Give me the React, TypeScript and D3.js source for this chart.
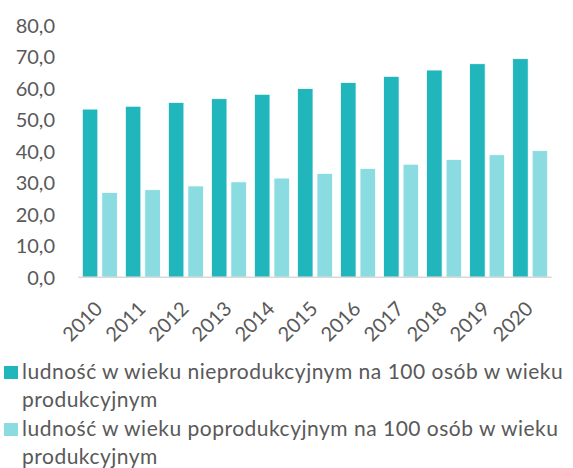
import React from "react";
import * as d3 from "d3";

const years = ["2010","2011","2012","2013","2014","2015","2016","2017","2018","2019","2020"];
const nonProductive = [53.4, 54.3, 55.5, 56.7, 58.1, 59.9, 61.8, 63.8, 65.8, 67.8, 69.4];
const postProductive = [26.9, 27.8, 29.0, 30.3, 31.5, 33.0, 34.5, 35.9, 37.4, 38.9, 40.2];
const yTicks = [0, 10, 20, 30, 40, 50, 60, 70, 80];
const legendLines = [
  ["ludność w wieku nieprodukcyjnym na 100 osób w wieku", "produkcyjnym"],
  ["ludność w wieku poprodukcyjnym na 100 osób w wieku", "produkcyjnym"],
];

const W = 573, H = 468;
const DARK = "#21B5BC", LIGHT = "#8ADCE1", TEXT = "#595959";
const FONT = "Lato, 'Open Sans', sans-serif";

export default function App() {
  const x = d3.scaleBand<string>().domain(years).range([78.3, 551.7]).padding(0);
  const y = d3.scaleLinear().domain([0, 80]).range([277.3, 25.3]);
  const bw = 15.5, gap = 4;
  const fmt = (v: number) => v.toFixed(1).replace(".", ",");
  const colors = [DARK, LIGHT];
  return (
    <svg width={W} height={H} style={{ position: "absolute", left: 0, top: 0 }} fontFamily={FONT}>
      {years.map((yr, i) => {
        const cx = (x(yr) as number) + x.bandwidth() / 2;
        return (
          <g key={yr}>
            <rect x={cx - gap / 2 - bw} y={y(nonProductive[i])} width={bw} height={y(0) - y(nonProductive[i])} fill={DARK} stroke="#fff" strokeWidth={0.75} />
            <rect x={cx + gap / 2} y={y(postProductive[i])} width={bw} height={y(0) - y(postProductive[i])} fill={LIGHT} stroke="#fff" strokeWidth={0.75} />
            <text transform={`translate(${cx + 4},${310}) rotate(-45)`} textAnchor="end" fontSize={20} fill={TEXT}>{yr}</text>
          </g>
        );
      })}
      <line x1={78.3} x2={551.7} y1={y(0)} y2={y(0)} stroke="#D9D9D9" strokeWidth={1.5} />
      {yTicks.map((t) => (
        <text key={t} x={55} y={y(t)} dy="0.36em" textAnchor="end" fontSize={20} fill={TEXT}>{fmt(t)}</text>
      ))}
      {legendLines.map((lines, k) => {
        const base = 379 + k * 57;
        return (
          <g key={k}>
            <rect x={4} y={base - 13} width={14} height={13} fill={colors[k]} />
            {lines.map((ln, j) => (
              <text key={j} x={22} y={base + j * 28} fontSize={21} letterSpacing={0.5} fill={TEXT}>{ln}</text>
            ))}
          </g>
        );
      })}
    </svg>
  );
}
